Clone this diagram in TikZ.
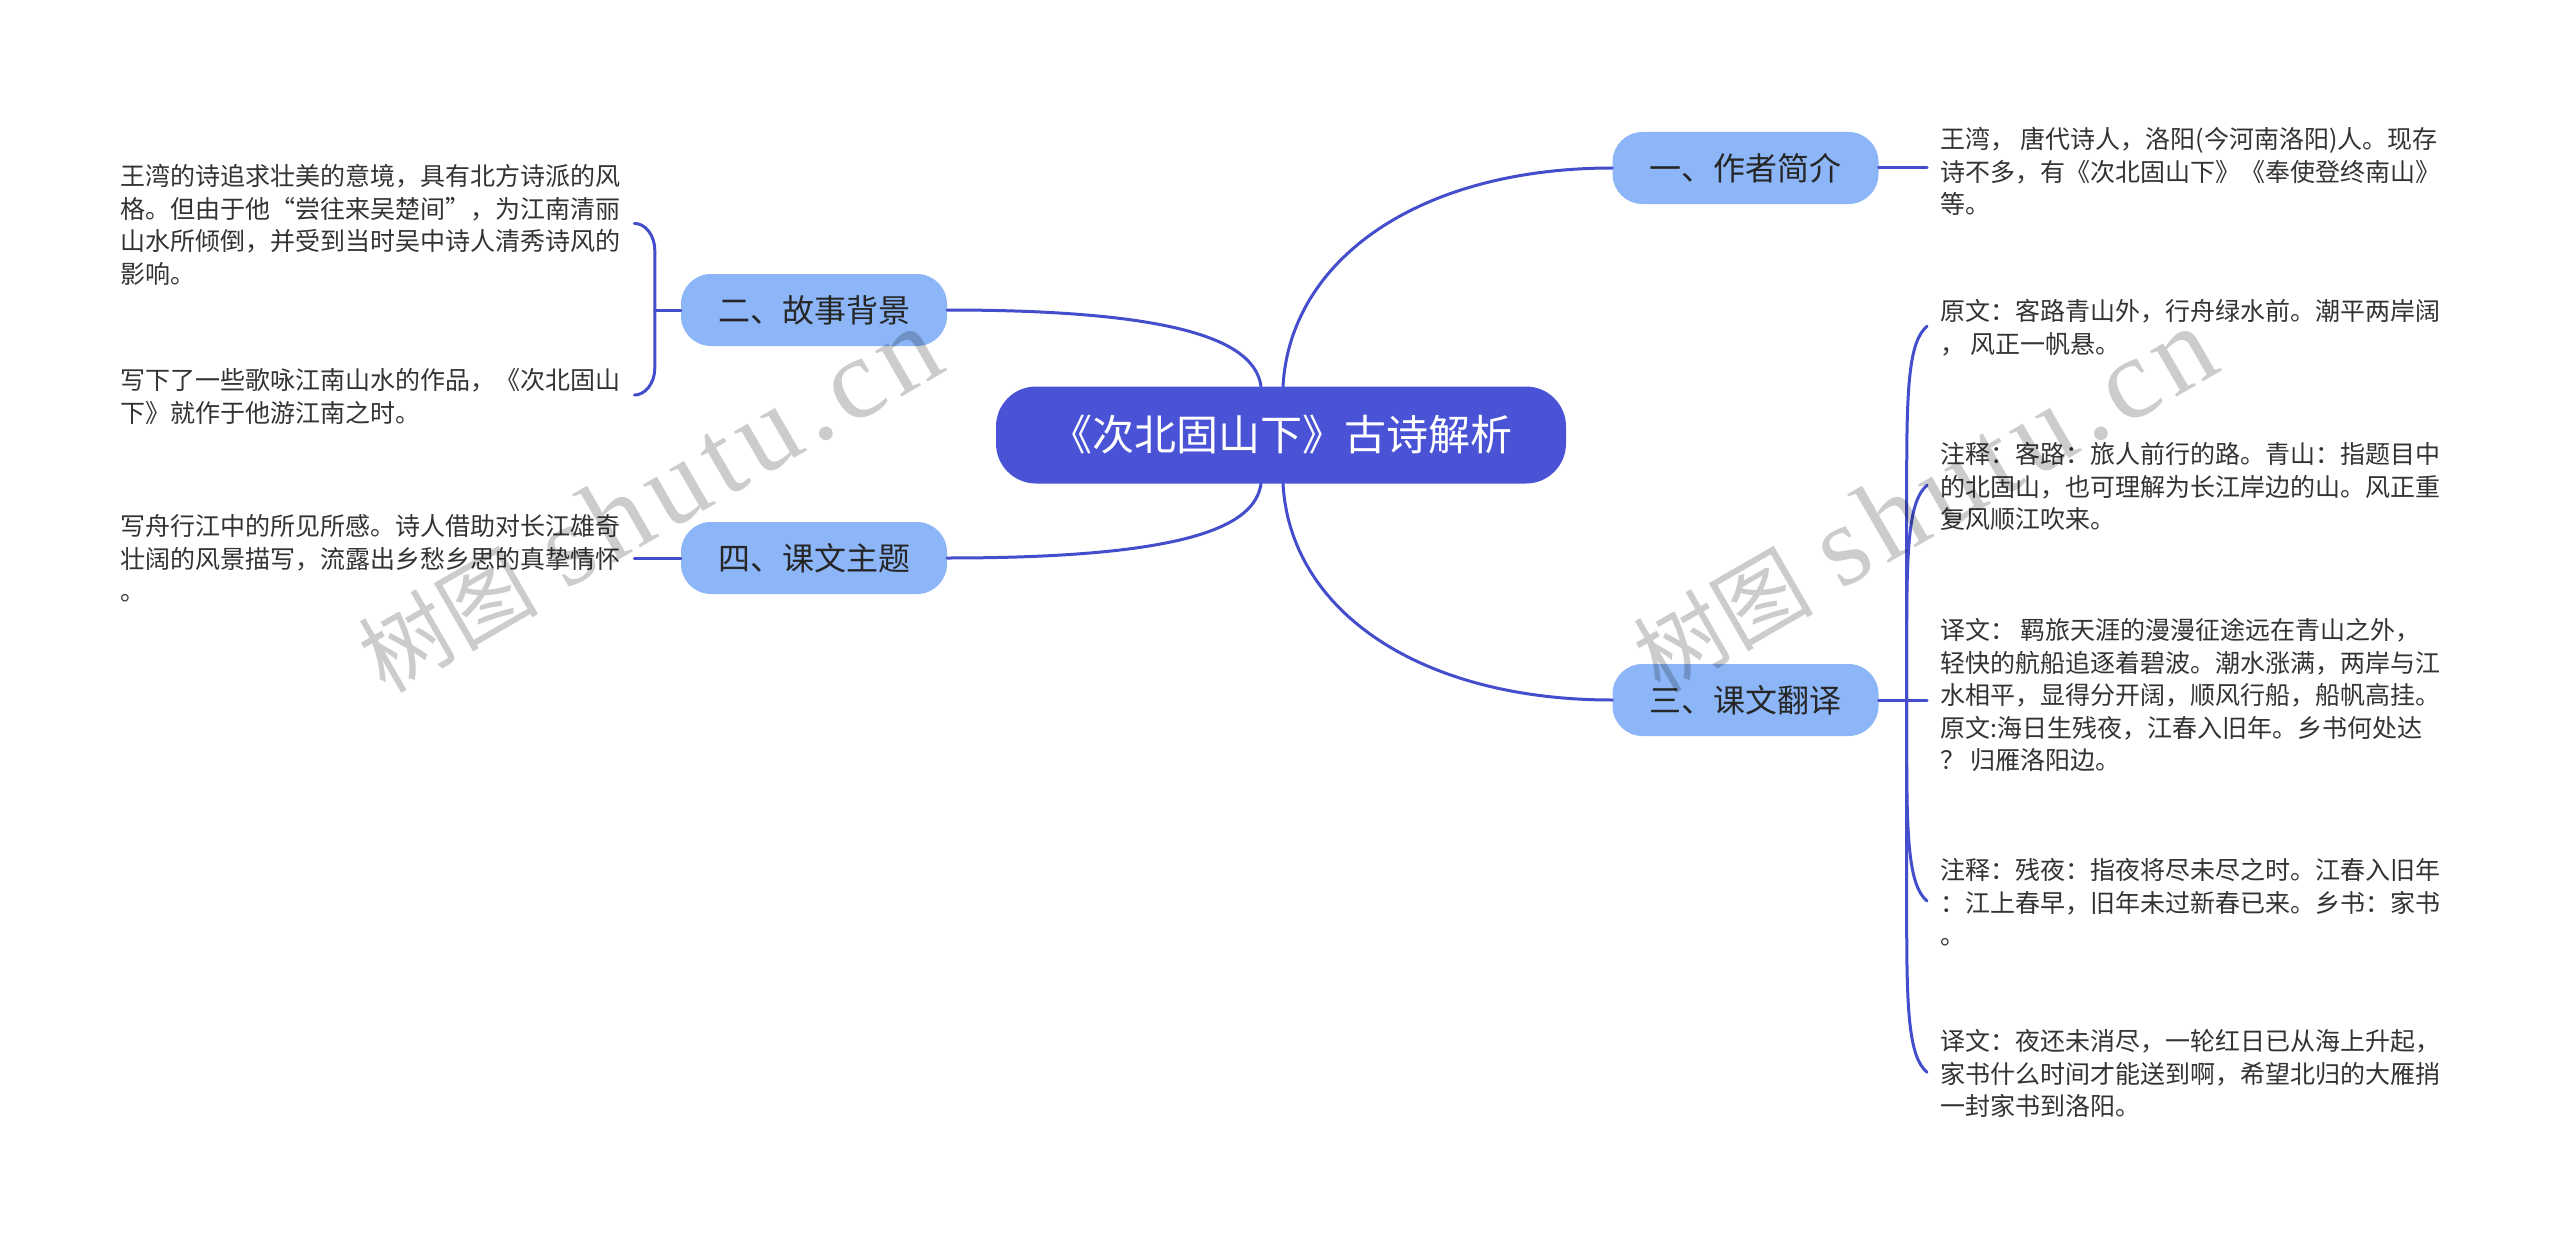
\documentclass[tikz,border=0pt]{standalone}
\usepackage{fontspec}
\setmainfont{Noto Sans CJK SC}
\newfontfamily\wmlatin{Liberation Serif}
\usetikzlibrary{calc}
\definecolor{rootblue}{HTML}{4A53D6}
\definecolor{nodeblue}{HTML}{8CB6F8}
\definecolor{linkblue}{HTML}{444DCB}
\definecolor{txtgray}{HTML}{333333}
\newcommand\fsr{\rule{0pt}{24pt}}
\newcommand\wmtext{{\fontsize{90}{90}\selectfont 树图}{\wmlatin\fontsize{115}{115}\selectfont\ s\kern8pt h\kern8pt u\kern8pt t\kern8pt u\kern8pt .\kern8pt c\kern8pt n}}
\begin{document}
\begin{tikzpicture}[x=1pt,y=-1pt,
  rootbox/.style={rectangle, rounded corners=40pt, fill=rootblue, text=white,
    minimum width=570pt, minimum height=97pt, inner sep=0pt,
    font=\fontsize{42}{50}\selectfont},
  topic/.style={rectangle, rounded corners=30pt, fill=nodeblue, text=black!85,
    minimum width=266pt, minimum height=72pt, inner sep=0pt,
    font=\fontsize{32}{38}\selectfont},
  txt/.style={anchor=north west, inner sep=0pt, align=left, text=txtgray,
    font=\fontsize{25}{32.5}\selectfont},
  conn/.style={draw=linkblue, line width=3pt, line cap=round},
  wm/.style={text=black, text opacity=0.2, rotate=30, anchor=base west, inner sep=0pt}]
\fill[white] (0,0) rectangle (2560,1244);
\useasboundingbox (0,0) rectangle (2560,1244);

% main nodes
\node[rootbox] (root) at (1281,435) {《次北固山下》古诗解析};
\node[topic] (n1) at (1745.5,168) {一、作者简介};
\node[topic] (n2) at (814,310) {二、故事背景};
\node[topic] (n3) at (1745.5,700) {三、课文翻译};
\node[topic] (n4) at (814,558) {四、课文主题};

% text leaves, left
\node[txt] (t1) at (120,161.5) {\fsr 王湾的诗追求壮美的意境，具有北方诗派的风\\格。但由于他“尝往来吴楚间”，为江南清丽\\山水所倾倒，并受到当时吴中诗人清秀诗风的\\影响。};
\node[txt] (t2) at (120,365.5) {\fsr 写下了一些歌咏江南山水的作品，《次北固山\\下》就作于他游江南之时。};
\node[txt] (t3) at (120,511.5) {\fsr 写舟行江中的所见所感。诗人借助对长江雄奇\\壮阔的风景描写，流露出乡愁乡思的真挚情怀\\。};

% text leaves, right
\node[txt] (t0) at (1940,124.5) {\fsr 王湾， 唐代诗人，洛阳(今河南洛阳)人。现存\\诗不多，有《次北固山下》《奉使登终南山》\\等。};
\node[txt] (t4) at (1940,296.5) {\fsr 原文：客路青山外，行舟绿水前。潮平两岸阔\\， 风正一帆悬。};
\node[txt] (t5) at (1940,439.5) {\fsr 注释：客路：旅人前行的路。青山：指题目中\\的北固山，也可理解为长江岸边的山。风正重\\复风顺江吹来。};
\node[txt] (t6) at (1940,615.5) {\fsr 译文： 羁旅天涯的漫漫征途远在青山之外，\\轻快的航船追逐着碧波。潮水涨满，两岸与江\\水相平，显得分开阔，顺风行船，船帆高挂。\\原文:海日生残夜，江春入旧年。乡书何处达\\？ 归雁洛阳边。};
\node[txt] (t7) at (1940,855.5) {\fsr 注释：残夜：指夜将尽未尽之时。江春入旧年\\：江上春早，旧年未过新春已来。乡书：家书\\。};
\node[txt] (t8) at (1940,1026.5) {\fsr 译文：夜还未消尽，一轮红日已从海上升起，\\家书什么时间才能送到啊，希望北归的大雁捎\\一封家书到洛阳。};

% root connectors
\draw[conn] ([xshift=2pt]root.north) .. controls +(7,-127) and +(-193,0) .. (n1.west);
\draw[conn] ([xshift=-20pt]root.north) .. controls +(-6,-42) and +(243,0) .. (n2.east);
\draw[conn] ([xshift=-20pt]root.south) .. controls +(-6,42) and +(243,0) .. (n4.east);
\draw[conn] ([xshift=2pt]root.south) .. controls +(7,127) and +(-193,0) .. (n3.west);

% left bracket of 二
\coordinate (j2) at ([xshift=-26pt]n2.west);
\coordinate (e1) at ([xshift=14pt]t1.east);
\coordinate (e2) at ([xshift=14pt]t2.east);
\draw[conn] (n2.west) -- (j2);
\draw[conn] (j2) -- ($(j2 |- e1)+(0,27)$) .. controls +(0,-15) and +(11,0) .. (e1);
\draw[conn] (j2) -- ($(j2 |- e2)-(0,27)$) .. controls +(0,15) and +(11,0) .. (e2);

% 四
\coordinate (e3) at ([xshift=14pt]t3.east);
\draw[conn] (n4.west) -- (e3 |- n4.west);

% 一
\coordinate (e0) at ([xshift=-13pt]t0.west);
\draw[conn] (n1.east) -- (e0 |- n1.east);

% bracket of 三
\coordinate (j3) at ([xshift=28pt]n3.east);
\coordinate (e4) at ([xshift=-13pt]t4.west);
\coordinate (e5) at ([xshift=-13pt]t5.west);
\coordinate (e6) at ([xshift=-13pt]t6.west);
\coordinate (e7) at ([xshift=-13pt]t7.west);
\coordinate (e8) at ([xshift=-13pt]t8.west);
\draw[conn] (n3.east) -- (e6 |- n3.east);
\draw[conn] (j3) -- ($(j3 |- e4)+(0,150)$) .. controls +(0,-90) and +(-18,15) .. (e4);
\draw[conn] (j3) -- ($(j3 |- e5)+(0,150)$) .. controls +(0,-90) and +(-18,15) .. (e5);
\draw[conn] (j3) -- ($(j3 |- e7)-(0,150)$) .. controls +(0,90) and +(-18,-15) .. (e7);
\draw[conn] (j3) -- ($(j3 |- e8)-(0,150)$) .. controls +(0,90) and +(-18,-15) .. (e8);

% watermarks
\node[wm] (wm1) at (385,695) {\wmtext};
\node[wm] (wm2) at (1660,695) {\wmtext};
\end{tikzpicture}
\end{document}
